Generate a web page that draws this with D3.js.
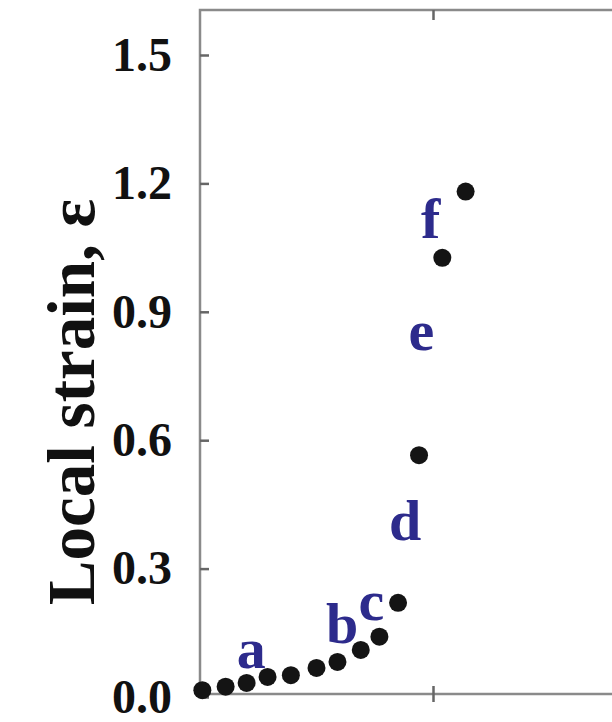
<!DOCTYPE html>
<meta charset="utf-8">
<style>
  body { margin: 0; background: #fff; }
  svg text { font-family: "Liberation Serif", "Times New Roman", serif; font-weight: bold; }
</style>

<div id="chart"></div>

<script src="https://cdn.jsdelivr.net/npm/d3@7"></script>
<script>

// strain measured at each step
var steps  = [0.1, 1.1, 2.0, 2.9, 3.9, 5.0, 5.9, 6.9, 7.7, 8.5, 9.4, 10.4, 11.4];
var strain = [0.016, 0.024, 0.033, 0.047, 0.051, 0.068, 0.082, 0.110, 0.141, 0.220, 0.565, 1.026, 1.181];

// stage letters and where they sit
var stageNames = ["a", "b", "c", "d", "e", "f"];
var stageX     = [2.2, 6.1, 7.35, 8.8, 9.5, 9.9];
var stageY     = [0.068, 0.126, 0.18, 0.367, 0.81, 1.072];

var yTicks = [0.0, 0.3, 0.6, 0.9, 1.2, 1.5];
var xTicks = [10];

var width = 612,
    height = 722,
    frame = {left: 200, top: 10, right: 660, bottom: 694};

var svg = d3.select("#chart")
  .append("svg")
    .attr("width", width)
    .attr("height", height);

var x = d3.scaleLinear()
  .domain([0, 10])
  .range([frame.left, 433]);

var y = d3.scaleLinear()
  .domain([0, 1.5])
  .range([697, 55]);

// plot frame
svg.append("rect")
  .attr("x", frame.left)
  .attr("y", frame.top)
  .attr("width", frame.right - frame.left)
  .attr("height", frame.bottom - frame.top)
  .attr("fill", "none")
  .attr("stroke", "#8a8a8a")
  .attr("stroke-width", 2.5);

// Y axis
var yAxis = svg.append("g")
  .attr("transform", "translate(" + frame.left + ",0)")
  .call(d3.axisLeft(y)
    .tickValues(yTicks)
    .tickFormat(d3.format(".1f"))
    .tickSize(-9)
    .tickPadding(28));
yAxis.select(".domain").remove();
yAxis.selectAll(".tick line")
  .attr("stroke", "#666")
  .attr("stroke-width", 2.5);
yAxis.selectAll(".tick text")
  .attr("fill", "#111")
  .style("font-size", "48px");

// X ticks on top and bottom edges, no labels
var xTop = svg.append("g")
  .attr("transform", "translate(0," + frame.top + ")")
  .call(d3.axisTop(x).tickValues(xTicks).tickFormat("").tickSize(-10));
var xBottom = svg.append("g")
  .attr("transform", "translate(0," + frame.bottom + ")")
  .call(d3.axisBottom(x).tickValues(xTicks).tickFormat("").tickSize(8));
xBottom.selectAll(".tick line").attr("y1", -8);
svg.selectAll(".domain").remove();
svg.selectAll(".tick line").attr("stroke", "#666").attr("stroke-width", 2.5);

// Y label
svg.append("text")
  .attr("transform", "translate(94,402) rotate(-90)")
  .attr("text-anchor", "middle")
  .attr("fill", "#111")
  .style("font-size", "67px")
  .text("Local strain, ε");

// points
svg.selectAll("circle.pt")
  .data(steps)
  .enter()
  .append("circle")
    .attr("class", "pt")
    .attr("cx", function(d) { return x(d); })
    .attr("cy", function(d, i) { return y(strain[i]); })
    .attr("r", 9)
    .attr("fill", "#141414");

// stage letters
svg.selectAll("text.stage")
  .data(stageNames)
  .enter()
  .append("text")
    .attr("class", "stage")
    .attr("x", function(d, i) { return x(stageX[i]); })
    .attr("y", function(d, i) { return y(stageY[i]); })
    .attr("text-anchor", "middle")
    .attr("fill", "#2d2b8c")
    .style("font-size", "58px")
    .text(function(d) { return d; });

</script>
